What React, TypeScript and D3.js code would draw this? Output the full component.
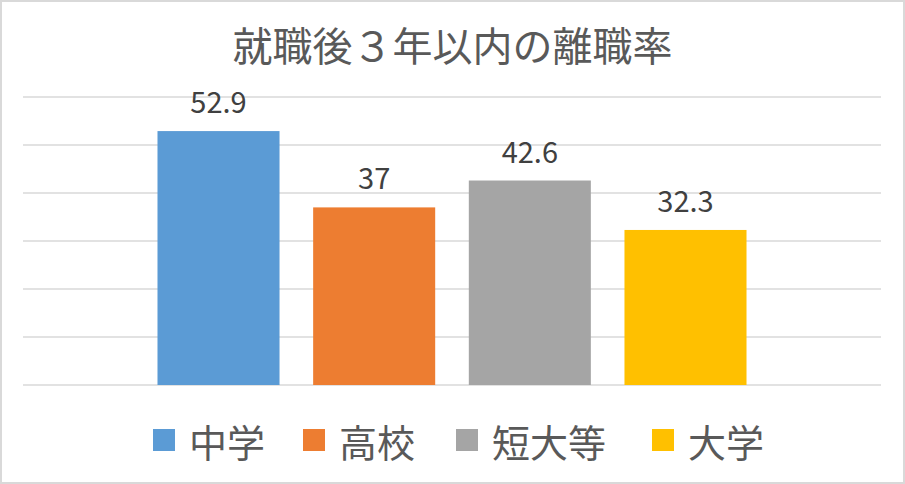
import React from "react";
import * as d3 from "d3";

const title = "就職後３年以内の離職率";
const series = ["中学", "高校", "短大等", "大学"];
const values = [52.9, 37, 42.6, 32.3];
const valueLabels = ["52.9", "37", "42.6", "32.3"];
const colors = ["#5B9BD5", "#ED7D31", "#A5A5A5", "#FFC000"];
const yTicks = [0, 10, 20, 30, 40, 50, 60];

const W = 905;
const H = 484;
const plotLeft = 23;
const plotRight = 881;
const plotTop = 97;
const plotBottom = 385;

const FONT = "'Noto Sans CJK JP', 'Noto Sans', sans-serif";

export default function App() {
  const y = d3.scaleLinear().domain([0, 60]).range([plotBottom, plotTop]);
  const outer = d3.scaleBand<string>().domain(["all"]).range([plotLeft, plotRight]);
  const groupW = outer.bandwidth() * 0.6865;
  const gx0 = (outer("all") as number) + (outer.bandwidth() - groupW) / 2;
  const x = d3
    .scaleBand<string>()
    .domain(series)
    .range([gx0, gx0 + groupW])
    .paddingInner(0.216)
    .paddingOuter(0);

  const legendPositions = [153, 303, 456, 652];
  const legendY = 440;
  const sq = 22;

  return (
    <div style={{ position: "absolute", left: 0, top: 0 }}>
      <svg width={W} height={H} style={{ display: "block" }}>
        <rect x={1} y={1} width={W - 2} height={H - 2} fill="#fff" stroke="#d9d9d9" strokeWidth={2} />
        <text
          x={W / 2}
          y={44}
          textAnchor="middle"
          dominantBaseline="central"
          fontFamily={FONT}
          fontSize={40}
          fill="#595959"
        >
          {title}
        </text>
        {yTicks.map((t) => (
          <line
            key={t}
            x1={plotLeft}
            x2={plotRight}
            y1={y(t)}
            y2={y(t)}
            stroke="#d9d9d9"
            strokeWidth={1.5}
          />
        ))}
        {series.map((s, i) => (
          <rect
            key={s}
            x={x(s)}
            y={y(values[i])}
            width={x.bandwidth()}
            height={y(0) - y(values[i])}
            fill={colors[i]}
          />
        ))}
        {series.map((s, i) => (
          <text
            key={"l" + s}
            x={(x(s) as number) + x.bandwidth() / 2}
            y={y(values[i]) - 18}
            textAnchor="middle"
            fontFamily={FONT}
            fontSize={29}
            fill="#404040"
          >
            {valueLabels[i]}
          </text>
        ))}
        {series.map((s, i) => (
          <g key={"lg" + s} transform={`translate(${legendPositions[i]},${legendY})`}>
            <rect x={0} y={-sq / 2} width={sq} height={sq} fill={colors[i]} />
            <text
              x={sq + 14}
              y={0}
              dominantBaseline="central"
              fontFamily={FONT}
              fontSize={38}
              fill="#595959"
            >
              {s}
            </text>
          </g>
        ))}
      </svg>
    </div>
  );
}
